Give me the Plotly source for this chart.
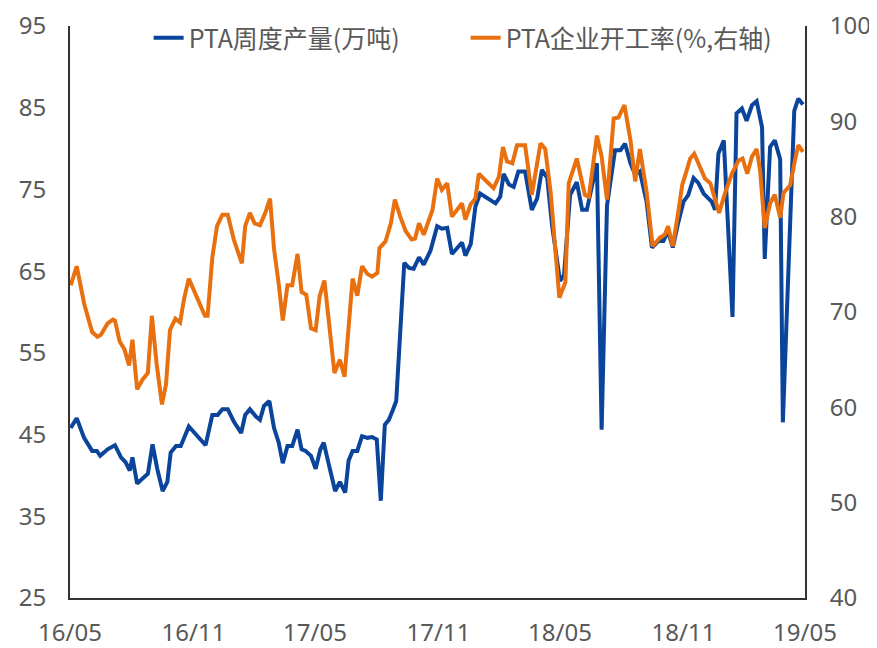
import pandas as pd
import plotly.graph_objects as go

BASE_DATE = pd.Timestamp("2016-05-01")

# PTA weekly output (10k tonnes), left axis: days since 2016-05-01, value
prod_days = [1, 10, 21, 33, 40, 45, 56, 67, 76, 83, 89, 93, 100, 108, 116, 123, 130, 138, 145, 150,
             158, 165, 177, 190, 202, 212, 220, 227, 235, 244, 255, 261, 268, 277, 283, 289, 297, 304,
             311, 317, 324, 331, 339, 345, 351, 359, 366, 373, 378, 386, 395, 402, 410, 415, 421, 428,
             435, 443, 450, 457, 463, 469, 475, 481, 486, 498, 505, 512, 520, 527, 537, 547, 554, 562,
             569, 584, 589, 597, 604, 611, 634, 641, 646, 654, 661, 668, 678, 688, 696, 703, 711, 718,
             730, 736, 745, 755, 763, 770, 785, 792, 800, 812, 820, 827, 835, 842, 849, 859, 867, 877,
             884, 891, 898, 906, 914, 921, 929, 936, 944, 951, 956, 961, 966, 974, 987, 993, 1001, 1008,
             1016, 1023, 1031, 1035, 1043, 1050, 1058, 1062, 1079, 1085, 1092]
prod_values = [45.8, 47.0, 44.6, 43.0, 43.0, 42.4, 43.2, 43.7, 42.2, 41.6, 40.6, 42.2, 39.0, 39.6, 40.2,
               43.8, 40.8, 38.1, 39.2, 42.8, 43.6, 43.6, 46.0, 44.8, 43.7, 47.4, 47.4, 48.1, 48.1, 46.6,
               45.2, 47.4, 48.1, 47.2, 46.8, 48.5, 49.1, 45.8, 44.0, 41.5, 43.6, 43.6, 45.6, 43.2, 43.0,
               42.4, 40.8, 43.2, 44.0, 41.2, 38.1, 39.2, 37.9, 41.8, 43.0, 43.0, 44.8, 44.6, 44.7, 44.4,
               36.9, 46.2, 46.8, 48.0, 49.1, 66.0, 65.4, 65.3, 66.7, 65.8, 67.5, 70.5, 70.2, 70.3, 67.1,
               68.5, 66.9, 68.3, 72.9, 74.5, 73.3, 74.1, 76.9, 75.6, 75.3, 77.2, 77.2, 72.5, 73.9, 77.4,
               76.4, 70.7, 63.8, 64.5, 74.3, 75.9, 72.5, 72.5, 78.2, 45.6, 73.0, 79.8, 79.8, 80.6, 78.2,
               76.8, 77.2, 73.5, 67.9, 68.7, 68.7, 69.9, 67.9, 70.9, 73.5, 74.3, 76.4, 75.8, 74.5, 73.9,
               73.5, 72.5, 79.4, 81.0, 59.4, 84.3, 84.9, 83.4, 85.3, 85.8, 82.6, 66.5, 80.2, 81.0, 78.7,
               46.5, 84.6, 86.1, 85.4]

# PTA operating rate (%), right axis: days since 2016-05-01, value
rate_days = [1, 10, 21, 33, 41, 46, 56, 64, 67, 74, 81, 88, 93, 100, 108, 116, 122, 129, 137, 143, 149,
             157, 164, 170, 177, 190, 201, 205, 212, 219, 227, 235, 244, 256, 261, 268, 275, 283, 291,
             298, 304, 311, 317, 324, 331, 339, 345, 352, 359, 366, 372, 379, 394, 402, 409, 421, 428,
             435, 443, 450, 458, 461, 470, 478, 484, 492, 500, 509, 514, 520, 527, 540, 547, 554, 562,
             569, 584, 589, 597, 604, 609, 631, 639, 645, 651, 659, 666, 678, 688, 701, 708, 716, 729,
             738, 743, 755, 767, 773, 785, 792, 800, 810, 817, 826, 835, 842, 849, 859, 868, 879, 886,
             891, 898, 906, 912, 919, 924, 930, 939, 946, 954, 967, 976, 986, 996, 1002, 1009, 1016,
             1023, 1028, 1035, 1043, 1050, 1058, 1063, 1073, 1080, 1085, 1092]
rate_values = [72.8, 74.8, 70.9, 67.9, 67.4, 67.6, 68.8, 69.2, 69.1, 66.9, 66.1, 64.4, 67.1, 61.9, 62.9,
               63.6, 69.6, 64.6, 60.3, 62.4, 68.1, 69.3, 68.9, 71.4, 73.5, 71.4, 69.6, 69.6, 75.7, 79.0,
               80.2, 80.2, 77.6, 75.1, 79.0, 80.4, 79.3, 79.1, 80.4, 81.9, 76.6, 72.9, 69.1, 72.8, 72.8,
               76.1, 72.1, 71.8, 68.3, 68.1, 71.7, 73.3, 63.6, 65.0, 63.2, 73.5, 71.7, 74.8, 74.0, 73.7,
               74.1, 76.7, 77.4, 79.3, 81.8, 80.0, 78.5, 77.6, 77.7, 79.3, 78.1, 80.7, 84.0, 82.8, 83.5,
               80.0, 81.4, 79.7, 81.3, 81.9, 84.5, 83.0, 84.2, 87.3, 85.8, 85.6, 87.5, 87.5, 82.3, 87.7,
               87.1, 82.6, 71.5, 73.1, 83.5, 86.1, 82.3, 82.1, 88.5, 86.3, 81.8, 90.3, 90.4, 91.7, 88.0,
               83.7, 87.1, 82.6, 76.9, 77.8, 78.1, 79.0, 76.9, 80.4, 83.3, 84.9, 86.1, 86.6, 85.1, 84.0,
               83.5, 80.4, 82.5, 84.5, 85.9, 86.1, 84.5, 86.3, 87.1, 84.9, 78.8, 81.4, 82.3, 79.9, 82.5,
               83.3, 85.9, 87.5, 86.8]

prod_name = "PTA周度产量(万吨)"
rate_name = "PTA企业开工率(%,右轴)"
x_range = ["2016-05-01", "2019-05-01"]
left_range = [25, 95]
right_range = [40, 100]

prod_dates = BASE_DATE + pd.to_timedelta(prod_days, unit="D")
rate_dates = BASE_DATE + pd.to_timedelta(rate_days, unit="D")

FONT = "Noto Sans CJK SC, Noto Sans, sans-serif"
TICK_FONT = "Noto Sans, sans-serif"
TXT = "#595959"
AX = "#333333"

fig = go.Figure()
fig.add_trace(go.Scatter(x=prod_dates, y=prod_values, name=prod_name, mode="lines",
                         line=dict(color="#0A449B", width=4)))
fig.add_trace(go.Scatter(x=rate_dates, y=rate_values, name=rate_name, mode="lines", yaxis="y2",
                         line=dict(color="#E8700F", width=4)))

# the page body has an 8px margin, so the figure is sized to end at the 877x648 window edges
fig.update_layout(
    width=869, height=640,
    margin=dict(l=62, r=72, t=18, b=50, autoexpand=False),
    paper_bgcolor="white", plot_bgcolor="white",
    font=dict(family=FONT, size=24, color=TXT),
    showlegend=True,
    legend=dict(orientation="h", x=0.107, xanchor="left", y=0.979, yanchor="middle",
                entrywidth=272, bgcolor="rgba(0,0,0,0)", font=dict(size=25, color=TXT)),
    xaxis=dict(type="date", range=x_range, tick0="2016-05-01", dtick="M6", tickformat="%y/%m",
               showline=True, linecolor=AX, linewidth=2, showgrid=False, zeroline=False,
               automargin=False, ticks="", ticklabelstandoff=12, ticklabeloverflow="allow",
               tickfont=dict(family=TICK_FONT, size=24, color=TXT)),
    yaxis=dict(range=left_range, tick0=25, dtick=10, showline=True, linecolor=AX, linewidth=2,
               showgrid=False, zeroline=False, automargin=False, ticks="", ticklabelstandoff=17,
               ticklabeloverflow="allow", tickfont=dict(family=TICK_FONT, size=24, color=TXT)),
    yaxis2=dict(range=right_range, tick0=40, dtick=10, overlaying="y", side="right",
                showline=True, linecolor=AX, linewidth=2, showgrid=False, zeroline=False,
                automargin=False, ticks="", ticklabelstandoff=18, ticklabeloverflow="allow",
                tickfont=dict(family=TICK_FONT, size=24, color=TXT)),
)

fig.write_html("out.html")
